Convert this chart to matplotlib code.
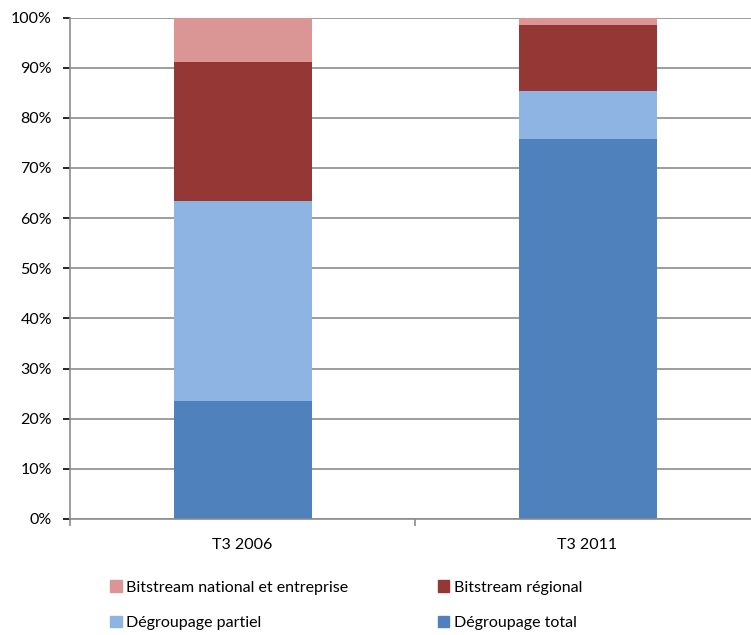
import numpy as np
import matplotlib.pyplot as plt
from matplotlib.patches import Patch

plt.rcParams['font.family'] = ['Lato', 'DejaVu Sans']

categories = ['T3 2006', 'T3 2011']
degroupage_total = [23.5, 75.8]
degroupage_partiel = [40.0, 9.6]
bitstream_regional = [27.6, 13.1]
bitstream_national = [8.9, 1.5]

series = [
    ('Dégroupage total', degroupage_total, '#4F81BD'),
    ('Dégroupage partiel', degroupage_partiel, '#8EB4E3'),
    ('Bitstream régional', bitstream_regional, '#953735'),
    ('Bitstream national et entreprise', bitstream_national, '#D99694'),
]

fig = plt.figure(figsize=(7.51, 6.35), dpi=100)
ax = fig.add_axes([70 / 751, 1 - 519 / 635, 690 / 751, (519 - 17.5) / 635])

x = np.arange(len(categories))
bottom = np.zeros(len(categories))
for name, vals, col in series:
    ax.bar(x, vals, width=0.4, bottom=bottom, color=col, label=name, zorder=2)
    bottom += np.array(vals)

ax.set_xlim(-0.5, 1.5)
ax.set_ylim(0, 100)
ax.set_yticks(np.arange(0, 101, 10))
ax.set_yticklabels([f'{v}%' for v in range(0, 101, 10)])
ax.yaxis.grid(True, color='#8c8c8c', linewidth=1.2, zorder=0)
ax.set_axisbelow(True)

ax.set_xticks(x)
ax.set_xticklabels(categories)
ax.set_xticks([-0.5, 0.5, 1.5], minor=True)
ax.tick_params(axis='x', which='major', length=0, pad=14)
ax.tick_params(axis='x', which='minor', length=5, color='#8c8c8c', width=1.2)
ax.tick_params(axis='y', length=5, color='#8c8c8c', width=1.2, pad=8)
ax.tick_params(labelsize=11.5, colors='black')

for s in ['top', 'right']:
    ax.spines[s].set_visible(False)
for s in ['left', 'bottom']:
    ax.spines[s].set_color('#8c8c8c')
    ax.spines[s].set_linewidth(1.2)

# legend order: row1 pink, red ; row2 light blue, blue
handles = [
    Patch(color='#D99694', label='Bitstream national et entreprise'),
    Patch(color='#8EB4E3', label='Dégroupage partiel'),
    Patch(color='#953735', label='Bitstream régional'),
    Patch(color='#4F81BD', label='Dégroupage total'),
]
fig.legend(handles=handles, ncol=2, loc='upper left',
           bbox_to_anchor=(96 / 751, 1 - 566 / 635), frameon=False,
           fontsize=11.5, handlelength=0.7, handleheight=0.7,
           handletextpad=0.3, columnspacing=5.6, labelspacing=1.35)

fig.savefig('out.png', dpi=100)
